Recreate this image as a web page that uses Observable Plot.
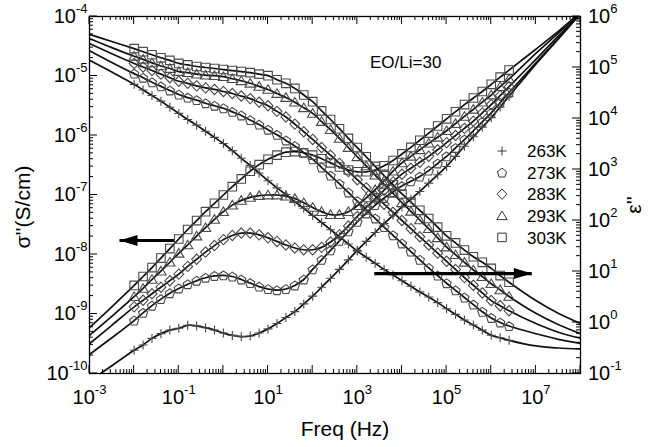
<!DOCTYPE html>
<html><head><meta charset="utf-8">
<script src="https://cdn.jsdelivr.net/npm/d3@7"></script>
<script src="https://cdn.jsdelivr.net/npm/@observablehq/plot@0.6"></script>
<style>html,body{margin:0;padding:0;background:#fff;}</style>
</head><body><div id="chart"></div>
<script>
// ---------- data (log10 values) ----------
const seriesLabels = ["263K", "273K", "283K", "293K", "303K"];
const annotation = "EO/Li=30";
const xTitle = "Freq (Hz)";
const yLeftTitle = "σ''(S/cm)";
const yRightTitle = "ε''";

// measured frequencies (log10 Hz), shared by all series
const markerLogFreq = [-2,-1.8,-1.6,-1.4,-1.2,-1,-0.8,-0.6,-0.4,-0.2,0,0.2,0.4,0.6,0.8,1,1.2,1.4,1.6,1.8,2,2.2,2.4,2.6,2.8,3,3.2,3.4,3.6,3.8,4,4.2,4.4,4.6,4.8,5,5.2,5.4,5.6,5.8,6,6.2,6.4];
// fitted-curve extension beyond the measured range (log10 Hz)
const extLogFreq = [-3, -2.5, 7, 7.5, 8];

// log10 sigma'' (S/cm)
const logSigma263 = [-9.61,-9.52,-9.41,-9.33,-9.27,-9.24,-9.19,-9.20,-9.23,-9.27,-9.32,-9.36,-9.38,-9.37,-9.32,-9.25,-9.16,-9.06,-8.96,-8.83,-8.70,-8.55,-8.40,-8.25,-8.09,-7.93,-7.78,-7.63,-7.48,-7.34,-7.20,-7.07,-6.94,-6.80,-6.66,-6.52,-6.35,-6.18,-6.02,-5.86,-5.70,-5.52,-5.34];
const logSigma273 = [-9.11,-8.98,-8.86,-8.75,-8.65,-8.57,-8.50,-8.44,-8.39,-8.36,-8.35,-8.37,-8.42,-8.48,-8.54,-8.58,-8.60,-8.58,-8.52,-8.42,-8.25,-8.09,-7.93,-7.77,-7.61,-7.45,-7.31,-7.17,-7.05,-6.95,-6.85,-6.77,-6.69,-6.59,-6.47,-6.35,-6.21,-6.07,-5.92,-5.77,-5.62,-5.45,-5.28];
const logSigma283 = [-8.88,-8.77,-8.66,-8.55,-8.44,-8.33,-8.20,-8.08,-7.96,-7.85,-7.75,-7.68,-7.64,-7.64,-7.67,-7.72,-7.78,-7.84,-7.89,-7.92,-7.92,-7.88,-7.79,-7.67,-7.52,-7.36,-7.21,-7.06,-6.92,-6.78,-6.65,-6.55,-6.45,-6.35,-6.24,-6.12,-6.00,-5.88,-5.76,-5.62,-5.48,-5.33,-5.18];
const logSigma293 = [-8.71,-8.57,-8.42,-8.28,-8.13,-7.98,-7.84,-7.69,-7.55,-7.41,-7.28,-7.17,-7.09,-7.04,-7.01,-7.00,-7.00,-7.02,-7.06,-7.13,-7.21,-7.28,-7.33,-7.33,-7.28,-7.18,-7.05,-6.91,-6.76,-6.60,-6.46,-6.35,-6.24,-6.13,-6.03,-5.92,-5.80,-5.68,-5.56,-5.44,-5.32,-5.18,-5.05];
const logSigma303 = [-8.52,-8.37,-8.22,-8.06,-7.90,-7.74,-7.58,-7.43,-7.28,-7.14,-7.00,-6.86,-6.73,-6.60,-6.49,-6.40,-6.33,-6.28,-6.27,-6.29,-6.33,-6.39,-6.46,-6.53,-6.58,-6.61,-6.61,-6.58,-6.51,-6.42,-6.31,-6.20,-6.08,-5.96,-5.84,-5.72,-5.60,-5.48,-5.37,-5.26,-5.14,-5.02,-4.90];
const logSigma263Ext = [-10.13,-9.87,-4.80,-4.38,-3.95];
const logSigma273Ext = [-9.68,-9.40,-4.78,-4.37,-3.95];
const logSigma283Ext = [-9.50,-9.19,-4.72,-4.33,-3.95];
const logSigma293Ext = [-9.36,-9.04,-4.62,-4.28,-3.93];
const logSigma303Ext = [-9.23,-8.88,-4.55,-4.25,-3.93];

// log10 epsilon''
const logEps263 = [4.67,4.56,4.45,4.34,4.22,4.10,3.98,3.87,3.75,3.63,3.51,3.37,3.22,3.08,2.93,2.78,2.64,2.51,2.37,2.24,2.10,1.96,1.82,1.68,1.54,1.40,1.28,1.16,1.04,0.93,0.82,0.71,0.60,0.50,0.39,0.27,0.16,0.05,-0.05,-0.15,-0.25,-0.30,-0.35];
const logEps273 = [4.88,4.80,4.71,4.63,4.55,4.47,4.41,4.36,4.30,4.25,4.20,4.13,4.06,3.97,3.88,3.78,3.68,3.57,3.46,3.33,3.20,3.04,2.88,2.72,2.55,2.38,2.21,2.04,1.87,1.71,1.55,1.39,1.23,1.07,0.92,0.77,0.63,0.49,0.35,0.21,0.09,0.00,-0.07];
const logEps283 = [5.08,5.01,4.94,4.87,4.80,4.73,4.69,4.64,4.60,4.57,4.53,4.49,4.44,4.39,4.32,4.25,4.14,4.03,3.89,3.74,3.59,3.43,3.28,3.12,2.96,2.80,2.64,2.48,2.32,2.16,2.00,1.84,1.68,1.52,1.36,1.20,1.04,0.88,0.73,0.58,0.43,0.33,0.23];
const logEps293 = [5.22,5.16,5.09,5.03,4.98,4.92,4.90,4.87,4.85,4.84,4.82,4.78,4.74,4.69,4.63,4.57,4.49,4.41,4.32,4.21,4.10,3.94,3.78,3.61,3.43,3.25,3.07,2.89,2.71,2.53,2.35,2.18,2.01,1.84,1.66,1.48,1.33,1.18,1.03,0.90,0.76,0.64,0.51];
const logEps303 = [5.37,5.31,5.25,5.19,5.14,5.08,5.05,5.02,5.00,4.98,4.96,4.94,4.92,4.90,4.87,4.84,4.76,4.69,4.59,4.46,4.33,4.15,3.98,3.80,3.61,3.43,3.25,3.06,2.88,2.70,2.52,2.36,2.20,2.04,1.87,1.70,1.56,1.42,1.29,1.18,1.06,0.92,0.79];
const logEps263Ext = [5.14,4.91,-0.46,-0.50,-0.52];
const logEps273Ext = [5.33,5.10,-0.22,-0.33,-0.41];
const logEps283Ext = [5.47,5.27,-0.02,-0.19,-0.31];
const logEps293Ext = [5.57,5.39,0.18,-0.04,-0.22];
const logEps303Ext = [5.65,5.51,0.43,0.18,-0.02];

// arrows: [tail freq, tip freq], level
const sigmaArrowFreq = [0.078, 0.0047];
const sigmaArrowLevel = 1.72e-8;
const epsArrowFreq = [2400, 8.1e6];
const epsArrowLevel = 9.1;

// axis ticks (exponents)
const xDecades = [-3,-2,-1,0,1,2,3,4,5,6,7,8];
const xLabelDecades = [-3,-1,1,3,5,7];
const yLeftDecades = [-10,-9,-8,-7,-6,-5,-4];
const yRightDecades = [-1,0,1,2,3,4,5,6];

// ---------- helpers ----------
// right axis (eps: 1e-1..1e6) mapped onto the left scale (sigma: 1e-10..1e-4)
const epsToLeftLog = le => -10 + (le + 1) * 6 / 7;

const sq = s => Math.sqrt(s / Math.PI);
const symPlus = {draw(c, size) { const s = sq(size); c.moveTo(-s, 0); c.lineTo(s, 0); c.moveTo(0, -s); c.lineTo(0, s); }};
const symPentagon = {draw(c, size) { const r = sq(size) * 1.08; for (let i = 0; i < 5; i++) { const a = -Math.PI / 2 + i * 2 * Math.PI / 5; const x = r * Math.cos(a), y = r * Math.sin(a) + r * 0.1; i ? c.lineTo(x, y) : c.moveTo(x, y); } c.closePath(); }};
const symDiamond = {draw(c, size) { const s = sq(size); c.moveTo(0, -s * 1.15); c.lineTo(s * 1.1, 0); c.lineTo(0, s * 1.15); c.lineTo(-s * 1.1, 0); c.closePath(); }};
const symTriangle = {draw(c, size) { const s = sq(size); c.moveTo(0, -s * 1.05); c.lineTo(s * 1.15, s * 0.85); c.lineTo(-s * 1.15, s * 0.85); c.closePath(); }};
const symSquare = {draw(c, size) { const s = sq(size) * 0.95; c.rect(-s, -s, 2 * s, 2 * s); }};
const symbols = [symPlus, symPentagon, symDiamond, symTriangle, symSquare];
const headLeft = {draw(c) { c.moveTo(0, 0); c.lineTo(18, -5.5); c.lineTo(18, 5.5); c.closePath(); }};
const headRight = {draw(c) { c.moveTo(0, 0); c.lineTo(-18, -5.5); c.lineTo(-18, 5.5); c.closePath(); }};

const sigmaSets = [logSigma263, logSigma273, logSigma283, logSigma293, logSigma303];
const sigmaExts = [logSigma263Ext, logSigma273Ext, logSigma283Ext, logSigma293Ext, logSigma303Ext];
const epsSets = [logEps263, logEps273, logEps283, logEps293, logEps303];
const epsExts = [logEps263Ext, logEps273Ext, logEps283Ext, logEps293Ext, logEps303Ext];

const markerRows = [], lineRows = [];
function addSeries(kind, idx, vals, ext) {
  const key = kind + seriesLabels[idx];
  const toY = kind === "eps" ? v => 10 ** epsToLeftLog(v) : v => 10 ** v;
  const pts = markerLogFreq.map((lf, i) => ({key, idx, f: 10 ** lf, y: toY(vals[i])}));
  markerRows.push(...pts);
  const low = [0, 1].map(i => ({key, idx, f: 10 ** extLogFreq[i], y: toY(ext[i])}));
  const high = [2, 3, 4].map(i => ({key, idx, f: 10 ** extLogFreq[i], y: toY(ext[i])}));
  lineRows.push(...low, ...pts, ...high);
}
seriesLabels.forEach((_, i) => { addSeries("sigma", i, sigmaSets[i], sigmaExts[i]); addSeries("eps", i, epsSets[i], epsExts[i]); });

const minorOf = decs => { const out = []; decs.slice(0, -1).forEach(e => { for (let k = 2; k <= 9; k++) out.push(Math.log10(k) + e); }); return out; };
const expFmt = d => "10^" + Math.round(Math.log10(d));

const arrowRows = [
  {x1: sigmaArrowFreq[0], x2: sigmaArrowFreq[1], y: sigmaArrowLevel},
  {x1: epsArrowFreq[0], x2: epsArrowFreq[1], y: 10 ** epsToLeftLog(Math.log10(epsArrowLevel))}
];

const labelCommon = {tickSize: 0, label: null, fill: "black"};

const plot = Plot.plot({
  width: 649, height: 447,
  marginLeft: 89, marginRight: 69, marginTop: 16, marginBottom: 74,
  style: {fontFamily: "'Liberation Sans', Arial, sans-serif", fontSize: "20px", background: "white", color: "black"},
  x: {type: "log", domain: [1e-3, 1e8], label: null},
  y: {type: "log", domain: [1e-10, 1e-4], label: null},
  marks: [
    Plot.line(lineRows, {x: "f", y: "y", z: "key", curve: "catmull-rom", stroke: "#111", strokeWidth: 1.7, clip: true}),
    ...symbols.map((sym, i) => Plot.dot(markerRows.filter(d => d.idx === i), {x: "f", y: "y", symbol: sym, r: 4.5, stroke: "#4a4a4a", strokeWidth: 1.1, fill: "none"})),
    Plot.link(arrowRows, {x1: "x1", x2: "x2", y1: "y", y2: "y", stroke: "black", strokeWidth: 3.2}),
    Plot.dot(arrowRows.slice(0, 1), {x: "x2", y: "y", symbol: headLeft, fill: "black", stroke: "none"}),
    Plot.dot(arrowRows.slice(1), {x: "x2", y: "y", symbol: headRight, fill: "black", stroke: "none"}),
    // tick labels
    Plot.axisX({...labelCommon, anchor: "bottom", ticks: xLabelDecades.map(e => 10 ** e), tickPadding: 16, tickFormat: expFmt}),
    Plot.axisY({...labelCommon, anchor: "left", ticks: yLeftDecades.map(e => 10 ** e), tickPadding: 2, tickFormat: expFmt}),
    Plot.frame({stroke: "black", strokeWidth: 1.3})
  ]
});

document.getElementById("chart").appendChild(plot);

const NS = "http://www.w3.org/2000/svg";
const supText = (t, expo) => {
  while (t.firstChild) t.removeChild(t.firstChild);
  const a = document.createElementNS(NS, "tspan"); a.textContent = "10"; t.appendChild(a);
  const b = document.createElementNS(NS, "tspan"); b.textContent = expo; b.setAttribute("dy", "-10"); b.setAttribute("font-size", "13"); t.appendChild(b);
};
plot.querySelectorAll("text").forEach(t => {
  const m = /^10\^(-?\d+)$/.exec(t.textContent.trim());
  if (m) supText(t, m[1]);
});

const svg = d3.select(plot);
const xs = plot.scale("x"), ys = plot.scale("y");
const X = v => xs.apply(v), Y = v => ys.apply(v);
const [x0, x1] = [X(1e-3), X(1e8)], [yb, yt] = [Y(1e-10), Y(1e-4)];
const font = "'Liberation Sans', Arial, sans-serif";

// inward ticks on all four sides
const tg = svg.append("g").attr("stroke", "black").attr("stroke-width", 1);
const tick = (xa, ya, xb, yb2) => tg.append("line").attr("x1", xa).attr("y1", ya).attr("x2", xb).attr("y2", yb2);
xDecades.forEach(e => { const p = X(10 ** e); tick(p, yb, p, yb - 8); tick(p, yt, p, yt + 8); });
minorOf(xDecades).forEach(l => { const p = X(10 ** l); tick(p, yb, p, yb - 4); tick(p, yt, p, yt + 4); });
yLeftDecades.forEach(e => { const p = Y(10 ** e); tick(x0, p, x0 + 8, p); });
minorOf(yLeftDecades).forEach(l => { const p = Y(10 ** l); tick(x0, p, x0 + 4, p); });
yRightDecades.forEach(e => { const p = Y(10 ** epsToLeftLog(e)); tick(x1, p, x1 - 8, p); });
minorOf(yRightDecades).forEach(l => { const p = Y(10 ** epsToLeftLog(l)); tick(x1, p, x1 - 4, p); });

// right-axis labels (epsilon'')
const rg = svg.append("g").attr("font-family", font).attr("font-size", 20).attr("text-anchor", "start").attr("fill", "black");
yRightDecades.forEach(e => {
  const t = rg.append("text").attr("x", x1 + 8).attr("y", Y(10 ** epsToLeftLog(e))).attr("dy", "0.36em").node();
  supText(t, String(e));
});

// titles
svg.append("text").attr("x", 345).attr("y", 436).attr("text-anchor", "middle").attr("font-family", font).attr("font-size", 21).text(xTitle);
svg.append("text").attr("transform", "translate(22,207) rotate(-90)").attr("text-anchor", "middle").attr("dominant-baseline", "central").attr("font-family", font).attr("font-size", 21).text(yLeftTitle);
svg.append("text").attr("transform", "translate(633,205) rotate(-90)").attr("text-anchor", "middle").attr("dominant-baseline", "central").attr("font-family", font).attr("font-size", 21).text(yRightTitle);
// annotation
svg.append("text").attr("x", 370).attr("y", 62).attr("dy", "0.35em").attr("text-anchor", "start").attr("font-family", font).attr("font-size", 17).text(annotation);
// legend
const lg = svg.append("g").attr("font-family", font).attr("font-size", 17).attr("text-anchor", "start");
seriesLabels.forEach((lab, i) => {
  const yy = 151 + i * 21.6;
  lg.append("path").attr("d", d3.symbol(symbols[i], Math.PI * 4.5 * 4.5)()).attr("transform", `translate(502,${yy})`).attr("fill", "none").attr("stroke", "#333").attr("stroke-width", 1);
  lg.append("text").attr("x", 527).attr("y", yy).attr("dy", "0.36em").text(lab);
});
</script>
</body></html>
